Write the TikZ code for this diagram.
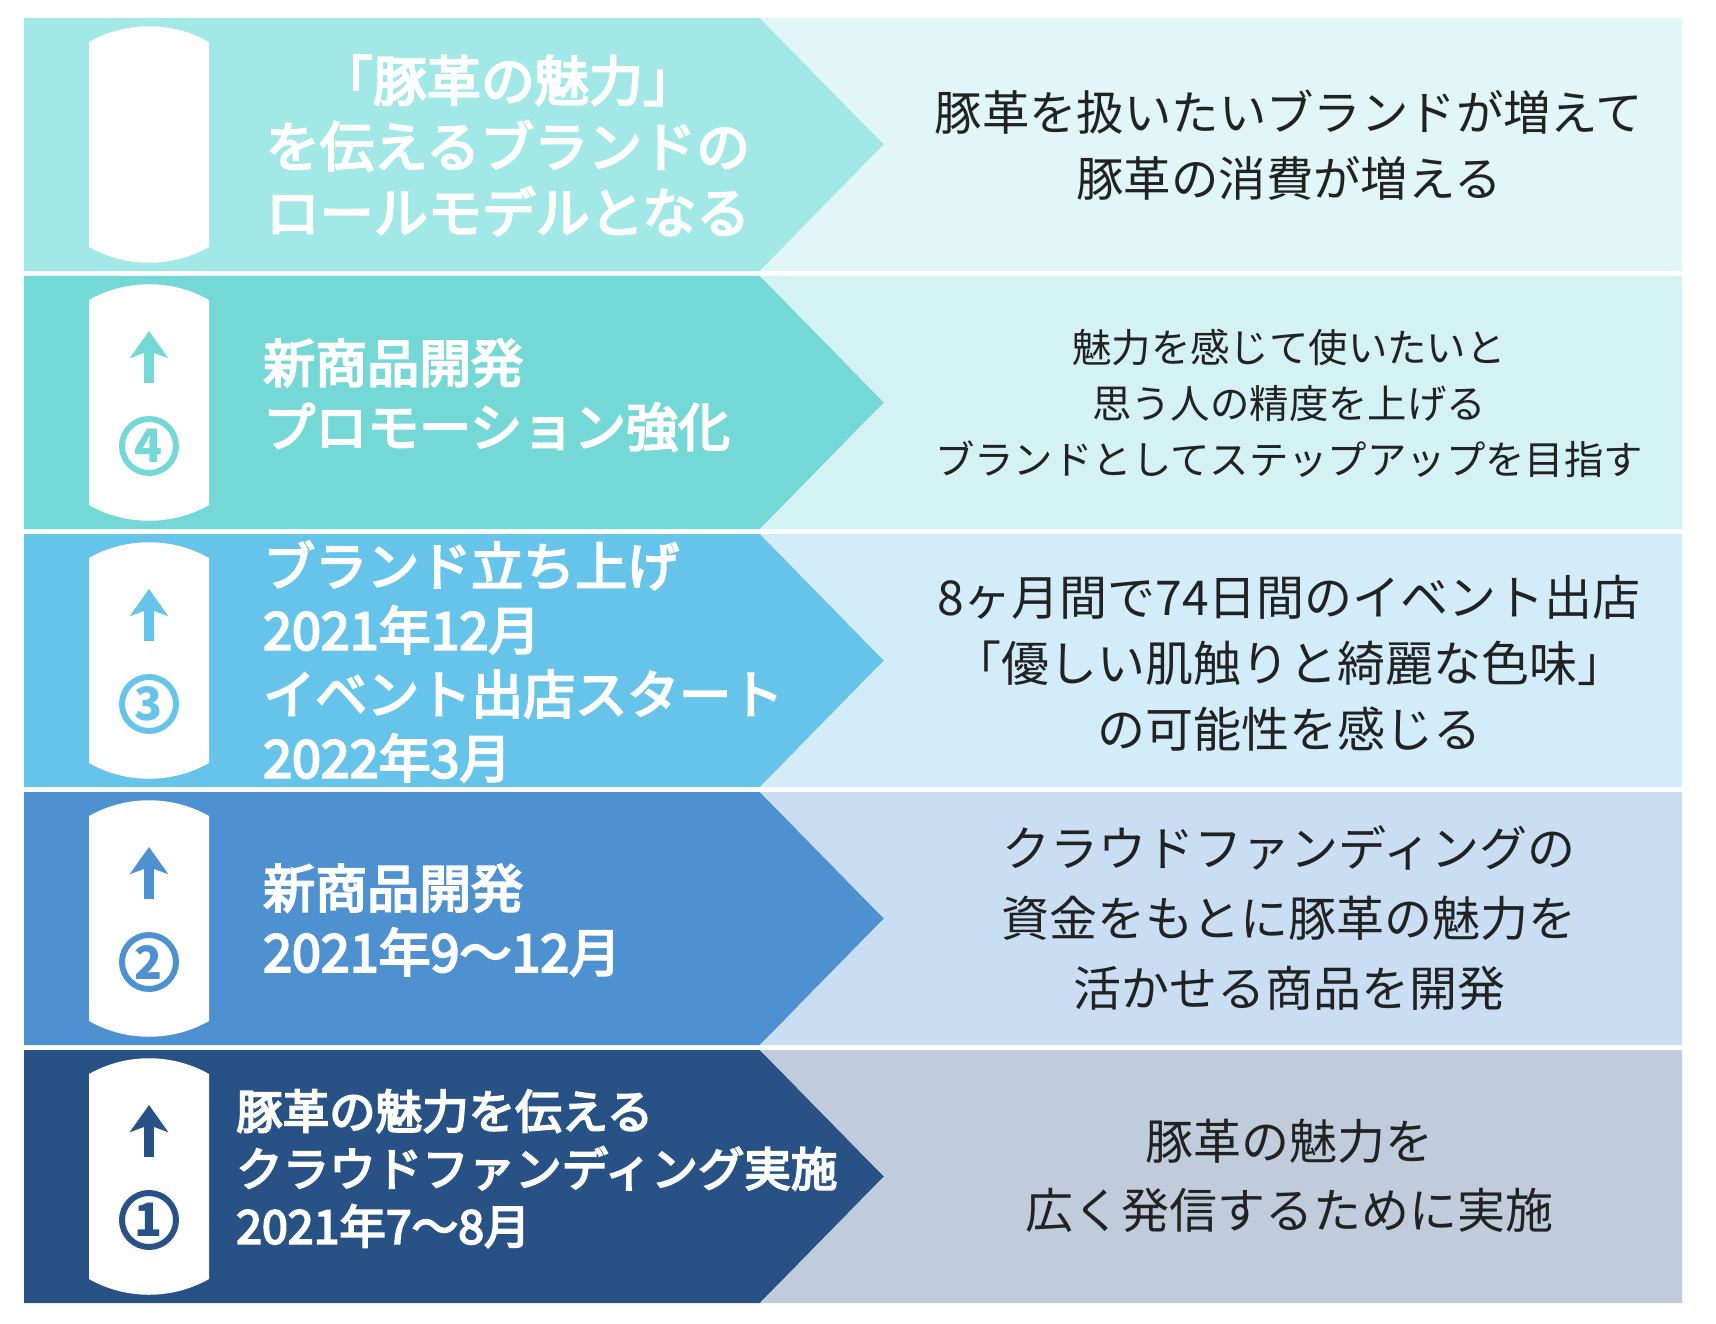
\documentclass[tikz,border=0pt]{standalone}
\usepackage{fontspec}
\setmainfont{Noto Sans CJK JP}
\newfontfamily\jpmid[FakeBold=4]{Noto Sans CJK JP}
\usetikzlibrary{arrows.meta}

\definecolor{stepA}{HTML}{A1E8E7}
\definecolor{stepAbg}{HTML}{E1F6F7}
\definecolor{stepB}{HTML}{73D8D6}
\definecolor{stepBbg}{HTML}{D4F2F3}
\definecolor{stepC}{HTML}{66C4EB}
\definecolor{stepCbg}{HTML}{D2EDF9}
\definecolor{stepD}{HTML}{4E91D0}
\definecolor{stepDbg}{HTML}{C9DEF2}
\definecolor{stepE}{HTML}{285285}
\definecolor{stepEbg}{HTML}{C0CCDC}
\definecolor{txtgray}{HTML}{222222}

\tikzset{
  pill/.style={fill=white},
  uparrow/.style={line width=10pt, -{Stealth[length=27pt,width=38pt,inset=7pt]}},
  stepnum/.style={circle, draw, line width=6pt, minimum size=54pt, inner sep=0pt,
    font=\fontsize{46}{46}\selectfont\bfseries},
  lefttext/.style 2 args={text=white, font=\fontsize{#1}{#2}\selectfont\jpmid,
    align=left, anchor=west, inner sep=0pt},
  righttext/.style 2 args={text=txtgray, font=\fontsize{#1}{#2}\selectfont,
    align=center, inner sep=0pt}
}

\begin{document}
\begin{tikzpicture}[x=1pt, y=-1pt]
  \fill[white] (0,0) rectangle (1716,1324);

  % band 1 (top)
  \fill[stepA]   (24,18) -- (760,18) -- (884,144.5) -- (760,271) -- (24,271) -- cycle;
  \fill[stepAbg] (760,18) -- (1682,18) -- (1682,271) -- (760,271) -- (884,144.5) -- cycle;
  \fill[pill] (89,42) .. controls (126,21) and (172,21) .. (209,42) -- (209,247)
    .. controls (172,268) and (126,268) .. (89,247) -- cycle;
  \node[lefttext={54}{66}, align=center, anchor=center] (goal) at (508,145.5)
    {「豚革の魅力」\\を伝えるブランドの\\ロールモデルとなる};
  \node[righttext={47.4}{66}] (goalnote) at (1289,145.5)
    {豚革を扱いたいブランドが増えて\\豚革の消費が増える};

  % band 2
  \fill[stepB]   (24,276) -- (760,276) -- (884,402.5) -- (760,529) -- (24,529) -- cycle;
  \fill[stepBbg] (760,276) -- (1682,276) -- (1682,529) -- (760,529) -- (884,402.5) -- cycle;
  \fill[pill] (89,300) .. controls (126,279) and (172,279) .. (209,300) -- (209,505)
    .. controls (172,526) and (126,526) .. (89,505) -- cycle;
  \draw[uparrow, stepB] (149,383) -- (149,331);
  \node[stepnum, draw=stepB, text=stepB] (num4) at (149,446) {4};
  \node[lefttext={52}{64}] (step4) at (263,395)
    {新商品開発\\プロモーション強化};
  \node[righttext={39.4}{56}] (note4) at (1289,403.5)
    {魅力を感じて使いたいと\\思う人の精度を上げる\\ブランドとしてステップアップを目指す};

  % band 3
  \fill[stepC]   (24,534) -- (760,534) -- (884,660.5) -- (760,787) -- (24,787) -- cycle;
  \fill[stepCbg] (760,534) -- (1682,534) -- (1682,787) -- (760,787) -- (884,660.5) -- cycle;
  \fill[pill] (89,558) .. controls (126,537) and (172,537) .. (209,558) -- (209,763)
    .. controls (172,784) and (126,784) .. (89,763) -- cycle;
  \draw[uparrow, stepC] (149,641) -- (149,589);
  \node[stepnum, draw=stepC, text=stepC] (num3) at (149,704) {3};
  \node[lefttext={52}{64}] (step3) at (263,661.5)
    {ブランド立ち上げ\\2021年12月\\イベント出店スタート\\2022年3月};
  \node[righttext={48}{66}] (note3) at (1289,663)
    {8ヶ月間で74日間のイベント出店\\「優しい肌触りと綺麗な色味」\\の可能性を感じる};

  % band 4
  \fill[stepD]   (24,792) -- (760,792) -- (884,918.5) -- (760,1045) -- (24,1045) -- cycle;
  \fill[stepDbg] (760,792) -- (1682,792) -- (1682,1045) -- (760,1045) -- (884,918.5) -- cycle;
  \fill[pill] (89,816) .. controls (126,795) and (172,795) .. (209,816) -- (209,1021)
    .. controls (172,1042) and (126,1042) .. (89,1021) -- cycle;
  \draw[uparrow, stepD] (149,899) -- (149,847);
  \node[stepnum, draw=stepD, text=stepD] (num2) at (149,962) {2};
  \node[lefttext={52}{64}] (step2) at (263,920)
    {新商品開発\\2021年9〜12月};
  \node[righttext={48}{70}] (note2) at (1289,918)
    {クラウドファンディングの\\資金をもとに豚革の魅力を\\活かせる商品を開発};

  % band 5 (bottom)
  \fill[stepE]   (24,1050) -- (760,1050) -- (884,1176.5) -- (760,1303) -- (24,1303) -- cycle;
  \fill[stepEbg] (760,1050) -- (1682,1050) -- (1682,1303) -- (760,1303) -- (884,1176.5) -- cycle;
  \fill[pill] (89,1074) .. controls (126,1053) and (172,1053) .. (209,1074) -- (209,1279)
    .. controls (172,1300) and (126,1300) .. (89,1279) -- cycle;
  \draw[uparrow, stepE] (149,1157) -- (149,1105);
  \node[stepnum, draw=stepE, text=stepE] (num1) at (149,1220) {1};
  \node[lefttext={46.5}{57.5}] (step1) at (236,1168.5)
    {豚革の魅力を伝える\\クラウドファンディング実施\\2021年7〜8月};
  \node[righttext={48}{69}] (note1) at (1289,1176)
    {豚革の魅力を\\広く発信するために実施};
\end{tikzpicture}
\end{document}
